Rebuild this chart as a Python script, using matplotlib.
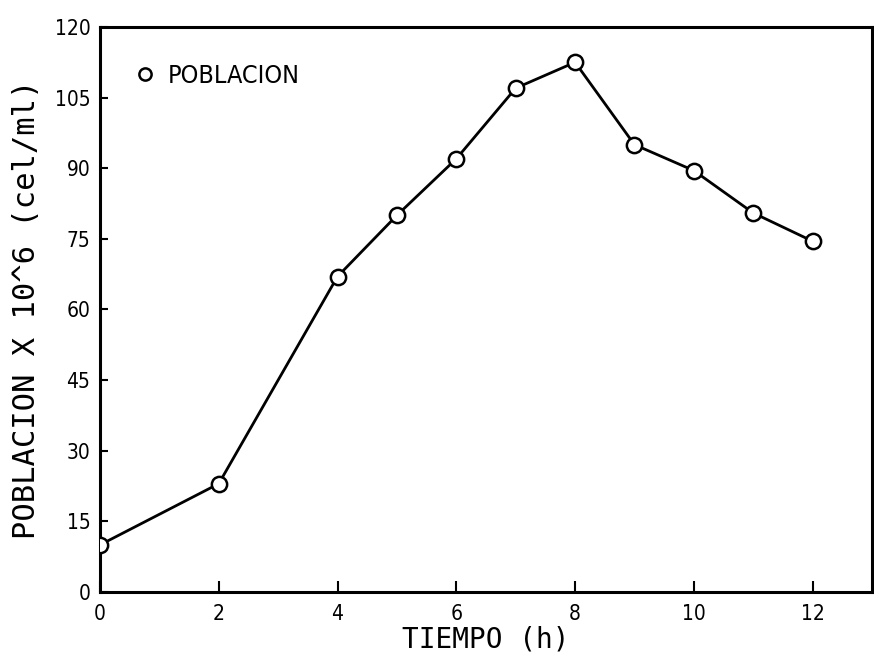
import matplotlib
matplotlib.use("Agg")
import matplotlib.pyplot as plt

# datos
tiempo = [0, 2, 4, 5, 6, 7, 8, 9, 10, 11, 12]
poblacion = [10, 23, 67, 80, 92, 107, 112.5, 95, 89.5, 80.5, 74.5]
xticks = [0, 2, 4, 6, 8, 10, 12]
yticks = [0, 15, 30, 45, 60, 75, 90, 105, 120]

mono = ['DejaVu Sans Mono', 'DejaVu Sans']

fig = plt.figure(figsize=(8.74, 6.61), dpi=100, facecolor='w')
ax = fig.add_axes([0.1144, 0.1044, 0.8833, 0.8548])

ax.plot(tiempo, poblacion, '-', color='k', lw=2, zorder=2)
ax.plot(tiempo, poblacion, 'o', ls='none', ms=11, mfc='w', mec='k', mew=1.8,
        zorder=3, label='POBLACION')

ax.set_xlim(0, 13)
ax.set_ylim(0, 120)
ax.set_xticks(xticks)
ax.set_yticks(yticks)
ax.set_xticklabels([str(v) for v in xticks], family='DejaVu Sans',
                   stretch='condensed', fontsize=15)
ax.set_yticklabels([str(v) for v in yticks], family='DejaVu Sans',
                   stretch='condensed', fontsize=15)
ax.tick_params(axis='x', direction='in', length=8, width=1.5, pad=9)
ax.tick_params(axis='y', direction='in', length=6, width=1.5, pad=7)

for spine in ('top', 'right', 'bottom', 'left'):
    ax.spines[spine].set_linewidth(2.2)

ax.set_xlabel('TIEMPO (h)', family=mono, fontsize=20, labelpad=1)
ax.set_ylabel('POBLACION X 10^6 (cel/ml)', family=mono, fontsize=22, labelpad=10)

leg = ax.legend(loc='upper left', bbox_to_anchor=(0.033, 0.953), frameon=False,
                handlelength=0.8, handletextpad=0.5, borderaxespad=0, markerscale=0.8,
                prop={'family': 'DejaVu Sans', 'stretch': 'condensed', 'size': 18})

fig.savefig('out.png', dpi=100)
